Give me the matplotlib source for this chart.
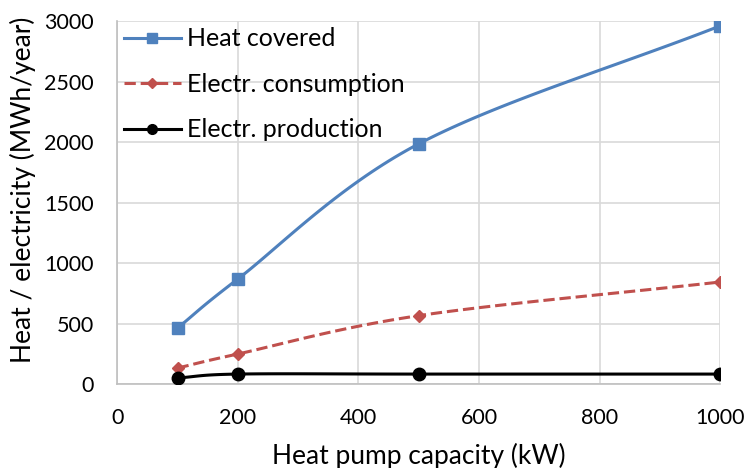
import numpy as np
import matplotlib.pyplot as plt

capacity = [100, 200, 500, 1000]
heat_covered = [463, 868, 1985, 2960]
electr_consumption = [132, 248, 565, 843]
electr_production = [50, 82, 82, 82]


def smooth(x, y, n=40):
    # Catmull-Rom style smoothing, like Excel's smoothed lines
    x = np.asarray(x, float)
    y = np.asarray(y, float)
    px = np.concatenate([[2 * x[0] - x[1]], x, [2 * x[-1] - x[-2]]])
    py = np.concatenate([[2 * y[0] - y[1]], y, [2 * y[-1] - y[-2]]])
    xs, ys = [], []
    for i in range(1, len(px) - 2):
        t = np.linspace(0, 1, n)
        b0, b1 = np.array([px[i], py[i]]), np.array([px[i + 1], py[i + 1]])
        c1 = b0 + (np.array([px[i + 1], py[i + 1]]) - np.array([px[i - 1], py[i - 1]])) / 6
        c2 = b1 - (np.array([px[i + 2], py[i + 2]]) - np.array([px[i], py[i]])) / 6
        pts = ((1 - t) ** 3)[:, None] * b0 + (3 * (1 - t) ** 2 * t)[:, None] * c1 \
            + (3 * (1 - t) * t ** 2)[:, None] * c2 + (t ** 3)[:, None] * b1
        xs.extend(pts[:, 0])
        ys.extend(pts[:, 1])
    return xs, ys


plt.rcParams['font.family'] = ['Lato', 'DejaVu Sans']
fig = plt.figure(figsize=(7.47, 4.68), dpi=100)
ax = fig.add_axes([0.157, 0.1795, 0.807, 0.7755])

series = [
    (heat_covered, 'Heat covered', '#4F81BD', '-', 's', 8.6, 7.2),
    (electr_consumption, 'Electr. consumption', '#C0504D', '--', 'D', 6.2, 5.5),
    (electr_production, 'Electr. production', 'black', '-', 'o', 9, 7),
]
for vals, lab, col, ls, mk, ms, lms in series:
    sx, sy = smooth(capacity, vals)
    ax.plot(sx, sy, color=col, ls=ls, lw=2.2, zorder=3)
    ax.plot(capacity, vals, ls='none', marker=mk, ms=ms, color=col, zorder=4)
    ax.plot([], [], color=col, ls=ls, lw=2.2, marker=mk, ms=lms, label=lab)

ax.set_xlim(0, 1000)
ax.set_ylim(0, 3000)
ax.set_xticks(range(0, 1001, 200))
ax.set_yticks(range(0, 3001, 500))
ax.grid(True, color='#D9D9D9', lw=1.2)
ax.set_axisbelow(True)
for s in ['top', 'right']:
    ax.spines[s].set_visible(False)
for s in ['left', 'bottom']:
    ax.spines[s].set_color('#BFBFBF')
    ax.spines[s].set_linewidth(1.2)
ax.tick_params(axis='y', length=0, labelsize=15.5, pad=17)
ax.tick_params(axis='x', length=0, labelsize=15.5, pad=17)
ax.set_xlabel('Heat pump capacity (kW)', fontsize=19)
ax.set_ylabel('Heat / electricity (MWh/year)', fontsize=19)
ax.xaxis.set_label_coords(0.5, -0.163)
ax.yaxis.set_label_coords(-0.135, 0.534)

ax.legend(loc='upper left', frameon=False, fontsize=18, handlelength=2.28,
          borderaxespad=0.1, borderpad=0.15, labelspacing=0.9, handletextpad=0.25)

fig.savefig('out.png', dpi=100)
